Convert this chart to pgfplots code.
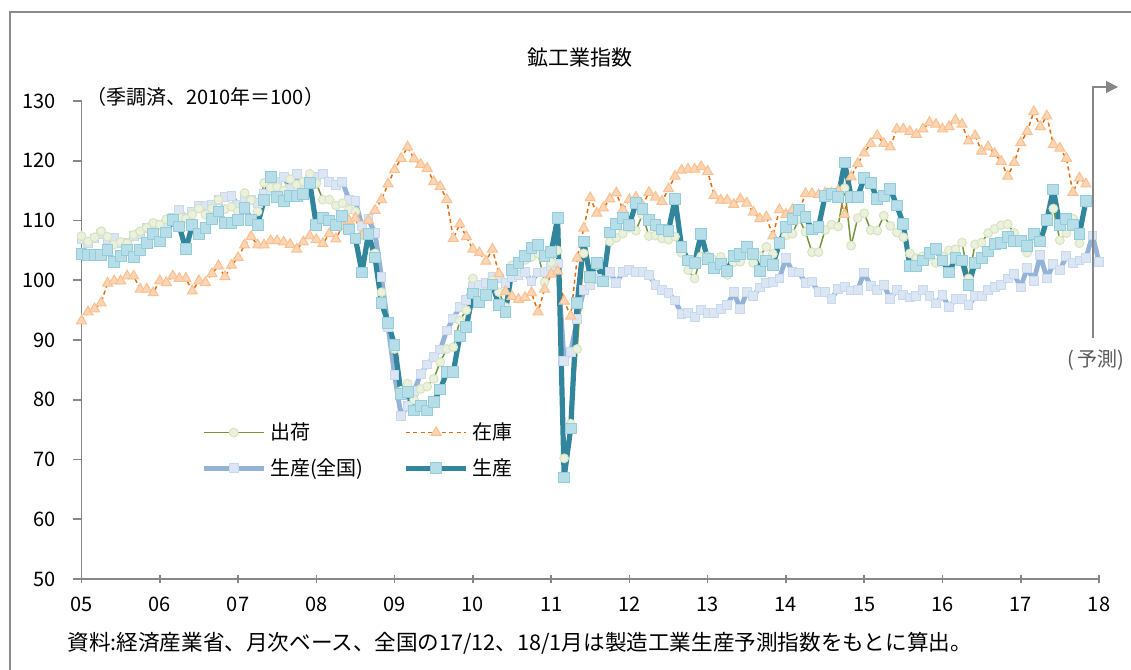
\documentclass[border=0pt]{standalone}
\usepackage{fontspec}
\setmainfont{Noto Sans CJK JP}
\usepackage{pgfplots}
\pgfplotsset{compat=1.18}
\usepackage{pgfplotstable}
\usetikzlibrary{arrows.meta}

\definecolor{axgray}{HTML}{868686}
\definecolor{framegray}{HTML}{8C8C8C}
\definecolor{tealline}{HTML}{31859C}
\definecolor{tealfill}{HTML}{B7DEE8}
\definecolor{tealedge}{HTML}{92CDDC}
\definecolor{natline}{HTML}{95B3D7}
\definecolor{natfill}{HTML}{DCE6F2}
\definecolor{natedge}{HTML}{C6D9F1}
\definecolor{shipline}{HTML}{77933C}
\definecolor{shipfill}{HTML}{EBF1DE}
\definecolor{shipedge}{HTML}{D7E4BD}
\definecolor{invline}{HTML}{E46C0A}
\definecolor{invfill}{HTML}{FCD5B5}
\definecolor{invedge}{HTML}{FAC090}

\pgfplotstableread{
m ship inv natl prod
0 107.4 93.2 106.9 104.4
1 106.5 94.7 106.3 104.2
2 107.2 95.2 107.0 104.2
3 108.2 96.2 107.7 104.2
4 107.3 99.5 106.9 105.0
5 106.0 99.9 107.1 103.0
6 106.4 99.9 106.2 104.1
7 106.2 100.7 106.2 105.1
8 107.6 100.7 107.4 103.9
9 108.2 98.5 107.8 105.0
10 108.8 98.5 108.7 106.2
11 109.6 97.9 109.0 107.8
12 109.3 99.9 109.3 106.5
13 110.2 99.6 109.3 108.0
14 110.0 100.7 110.4 110.1
15 110.5 100.3 111.8 109.0
16 110.3 100.3 110.4 105.2
17 111.0 98.2 111.5 109.3
18 112.0 99.9 112.4 107.8
19 111.0 99.6 112.5 108.7
20 112.0 101.1 112.6 110.3
21 113.5 102.4 113.5 111.5
22 111.9 100.6 114.0 109.6
23 112.3 102.5 114.1 109.6
24 111.5 103.8 112.6 110.1
25 114.6 105.9 113.6 112.1
26 113.4 107.3 113.5 110.1
27 111.5 105.9 112.9 109.2
28 116.3 105.9 114.5 113.5
29 115.5 106.6 115.0 117.3
30 115.6 106.6 116.5 113.9
31 115.0 106.4 117.3 113.3
32 116.9 106.0 115.3 114.1
33 116.0 105.2 117.8 114.1
34 116.5 106.4 116.0 114.5
35 117.8 107.4 117.0 116.3
36 116.2 106.8 117.3 109.2
37 113.5 106.1 117.8 110.4
38 113.5 107.8 116.5 110.0
39 112.5 106.9 116.0 109.3
40 112.9 109.0 116.5 110.7
41 111.8 110.0 113.5 108.5
42 111.5 110.4 113.2 107.0
43 107.5 107.5 109.1 101.3
44 107.9 110.0 110.2 107.8
45 104.5 111.7 107.9 103.8
46 98.0 113.5 100.6 96.2
47 93.0 116.1 92.2 92.9
48 88.5 118.5 84.1 89.1
49 81.5 120.4 77.3 80.9
50 82.7 122.3 79.0 81.3
51 80.0 120.3 81.5 78.2
52 81.8 119.4 84.3 79.0
53 82.2 118.7 85.9 78.2
54 83.5 116.5 87.1 79.6
55 86.3 115.7 88.4 81.7
56 88.5 113.5 91.6 84.6
57 88.8 107.0 93.6 84.6
58 93.3 109.4 95.5 90.7
59 95.0 107.3 96.7 92.2
60 100.3 105.2 98.9 97.8
61 97.5 104.6 99.2 96.3
62 98.0 103.2 99.6 97.6
63 100.0 105.2 100.6 99.3
64 98.0 101.1 100.3 95.8
65 95.5 98.1 99.5 94.7
66 102.5 97.3 100.6 101.7
67 102.8 96.8 100.9 102.9
68 103.4 97.1 101.4 104.1
69 103.9 97.9 99.8 105.4
70 104.5 94.7 101.3 105.9
71 99.7 98.5 101.4 104.0
72 103.0 101.0 102.4 104.7
73 105.0 101.5 102.8 110.4
74 70.2 96.5 86.5 67.0
75 76.0 94.0 88.0 75.2
76 88.5 103.7 93.5 96.2
77 104.5 108.7 98.4 106.5
78 100.0 113.8 99.2 100.6
79 102.5 111.2 100.2 102.9
80 100.0 112.1 99.9 99.8
81 106.5 113.6 101.4 108.0
82 107.1 114.6 99.5 109.4
83 107.8 111.8 101.4 110.4
84 108.8 113.5 101.7 109.3
85 108.3 113.9 101.4 112.9
86 111.0 112.5 101.4 111.9
87 107.4 114.7 100.9 110.1
88 107.5 113.9 99.2 109.3
89 107.0 113.2 98.4 108.5
90 106.8 115.3 97.9 108.3
91 107.3 117.4 96.6 113.6
92 104.6 118.4 94.4 105.6
93 101.7 118.6 94.5 103.3
94 100.3 118.6 93.8 102.9
95 104.0 119.0 95.0 107.8
96 104.0 118.2 94.5 103.5
97 103.4 114.2 94.5 102.0
98 103.9 113.4 95.2 102.7
99 100.9 113.4 95.8 101.6
100 103.0 112.7 98.0 104.1
101 103.1 113.6 95.2 104.4
102 104.5 112.9 98.0 105.6
103 102.9 111.4 97.4 104.4
104 104.0 110.3 98.8 101.6
105 105.6 110.6 99.5 103.2
106 104.4 107.4 99.7 102.6
107 106.0 111.8 100.3 106.2
108 107.5 111.0 103.7 108.9
109 107.8 111.8 101.4 110.3
110 110.3 111.5 101.3 111.8
111 108.1 114.5 99.6 110.6
112 104.7 114.5 99.8 108.5
113 104.7 114.3 98.0 108.9
114 108.4 114.6 98.0 114.1
115 109.3 114.6 96.9 114.5
116 109.0 115.0 98.6 113.9
117 115.4 111.0 98.9 119.7
118 105.8 117.3 98.3 113.9
119 110.4 119.5 98.4 114.0
120 111.2 121.3 101.3 117.1
121 108.4 122.9 99.0 116.3
122 108.3 124.2 98.4 113.6
123 110.8 122.9 99.2 114.1
124 109.1 122.3 96.9 115.3
125 108.0 125.3 98.4 112.5
126 107.2 125.3 97.6 109.4
127 104.5 124.9 97.1 102.4
128 103.7 124.4 97.3 102.4
129 104.0 125.3 98.4 103.3
130 104.0 126.4 97.3 104.5
131 102.9 126.1 96.1 105.2
132 104.0 125.3 97.5 103.3
133 105.0 125.7 95.5 101.3
134 105.2 126.8 96.8 103.7
135 106.3 126.1 96.9 103.3
136 100.3 123.3 95.8 99.2
137 106.0 124.2 97.3 102.9
138 106.3 121.6 97.3 103.7
139 107.9 122.3 98.4 104.8
140 108.6 121.2 98.9 106.1
141 109.2 119.9 99.2 106.3
142 109.4 117.4 100.3 107.3
143 107.9 119.7 101.0 106.6
144 106.5 123.0 98.8 106.6
145 104.6 124.9 102.1 105.7
146 107.0 128.2 99.9 107.7
147 106.7 125.7 104.2 106.5
148 110.0 127.5 100.3 110.1
149 112.0 122.7 102.7 115.2
150 106.7 122.1 101.7 109.2
151 107.9 120.4 104.0 110.2
152 110.3 114.7 102.9 109.2
153 106.2 117.1 103.3 107.8
154 113.0 116.1 103.7 113.3
155 nan nan 107.5 nan
156 nan nan 103.1 nan
}\datatable

\pgfplotsset{
  natstyle/.style={natline, line width=2.4pt, line join=round, mark=square*, mark size=2.2pt,
    mark options={fill=natfill, draw=natedge, line width=0.5pt, solid}},
  shipstyle/.style={shipline, line width=0.75pt, mark=*, mark size=2.2pt,
    mark options={fill=shipfill, draw=shipedge, line width=0.5pt, solid}},
  invstyle/.style={invline, line width=0.75pt, dash pattern=on 2pt off 1.6pt, mark=triangle*, mark size=2.9pt,
    mark options={fill=invfill, draw=invedge, line width=0.5pt, solid}},
  prodstyle/.style={tealline, line width=2.6pt, line join=round, mark=square*, mark size=2.7pt,
    mark options={fill=tealfill, draw=tealedge, line width=0.5pt, solid}},
}

\begin{document}
\begin{tikzpicture}[x=1pt,y=1pt]
\useasboundingbox (0,0) rectangle (565.5,335);
\draw[framegray, line width=0.8pt] (5,-20) -- (5,329) -- (600,329);
\node[font=\fontsize{10.5}{12}\selectfont] at (290,306) {鉱工業指数};
\node[anchor=west, font=\fontsize{10}{12}\selectfont, inner sep=0pt] at (43,286.5) {（季調済、2010年＝100）};
\node[anchor=west, font=\fontsize{10.8}{12}\selectfont, inner sep=0pt] at (33.5,13.5) {資料:経済産業省、月次ベース、全国の17/12、18/1月は製造工業生産予測指数をもとに算出。};

\begin{axis}[
  at={(40.75pt,45.5pt)}, anchor=south west,
  width=508.75pt, height=239pt, scale only axis,
  xmin=0, xmax=156, ymin=50, ymax=130,
  axis x line*=bottom, axis y line*=left,
  axis line style={draw=axgray, line width=0.8pt},
  xtick={0,12,...,156},
  xticklabels={05,06,07,08,09,10,11,12,13,14,15,16,17,18},
  ytick={50,60,...,130},
  /pgf/number format/assume math mode=true,
  tick style={draw=axgray, line width=0.8pt},
  major tick length=4pt,
  xtick align=center, ytick align=outside,
  tick label style={font=\fontsize{10}{12}\selectfont},
  yticklabel style={xshift=-5.5pt},
  xticklabel style={yshift=-3.5pt},
  clip=false,
  legend columns=2,
  legend cell align=left,
  legend image code/.code={\draw[mark repeat=2,mark phase=2,#1] plot coordinates {(0pt,0pt) (15pt,0pt) (30pt,0pt)};},
  legend style={draw=none, fill=none, inner sep=0pt, at={(axis cs:18.3,76.9)}, anchor=north west,
    font=\fontsize{10}{12}\selectfont, row sep=4pt,
    /tikz/every even column/.append style={column sep=18pt}},
]
\addlegendimage{shipstyle}\addlegendentry{出荷}
\addlegendimage{invstyle}\addlegendentry{在庫}
\addlegendimage{natstyle}\addlegendentry{生産(全国)}
\addlegendimage{prodstyle}\addlegendentry{生産}
\addplot[natstyle, forget plot] table[x=m, y=natl] {\datatable};
\addplot[shipstyle, forget plot] table[x=m, y=ship] {\datatable};
\addplot[invstyle, forget plot] table[x=m, y=inv] {\datatable};
\addplot[prodstyle, forget plot] table[x=m, y=prod] {\datatable};
\end{axis}

\draw[axgray, line width=0.8pt, -{Triangle[length=6pt,width=6pt]}] (546.5,166) -- (546.5,291.5) -- (559,291.5);
\node[text=black!65, font=\fontsize{10}{12}\selectfont, inner sep=0pt] at (548,155) {(\,予測)};
\end{tikzpicture}
\end{document}
